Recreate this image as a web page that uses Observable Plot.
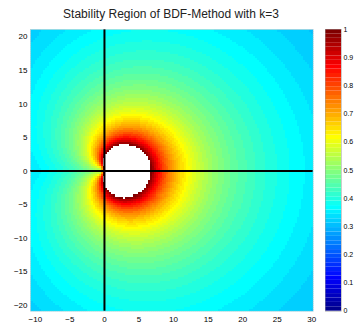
<!DOCTYPE html>
<html><head><meta charset="utf-8">
<script src="https://cdn.jsdelivr.net/npm/d3@7"></script>
<script src="https://cdn.jsdelivr.net/npm/@observablehq/plot@0.6"></script>
<style>
body{margin:0;background:#fff;}
#wrap{position:relative;width:358px;height:325px;overflow:hidden;font-family:"Liberation Sans",Arial,Helvetica,sans-serif;}
#title{position:absolute;left:0;top:7px;width:342px;text-align:center;font-size:12px;line-height:14px;color:#222;}
#main{position:absolute;left:0;top:0;}
#cbar{position:absolute;left:320px;top:0;}
</style></head><body>
<div id="wrap"><div id="title">Stability Region of BDF-Method with k=3</div><div id="main"></div><div id="cbar"></div></div>
<script>
// BDF3: (11/6) ζ^3 - 3 ζ^2 + (3/2) ζ - 1/3 = z ζ^3  -> colour = max |ζ|
const bdfCoefficients = [11/6, -3, 3/2, -1/3];
const xDomain = [-10.7, 30.2];
const yDomain = [-20.9, 21.1];
const xTicks = [-10, -5, 0, 5, 10, 15, 20, 25, 30];
const yTicks = [-20, -15, -10, -5, 0, 5, 10, 15, 20];
const colorTicks = [0, 0.1, 0.2, 0.3, 0.4, 0.5, 0.6, 0.7, 0.8, 0.9, 1];
const colorTickLabels = ["0", "0.1", "0.2", "0.3", "0.4", "0.5", "0.6", "0.7", "0.8", "0.9", "1"];
const gridCols = 140, gridRows = 140;
const nColors = 64;

// MATLAB jet(64)
function jetColors(m) {
  const n = Math.ceil(m / 4);
  const u = [];
  for (let i = 1; i <= n; i++) u.push(i / n);
  for (let i = 1; i < n; i++) u.push(1);
  for (let i = n; i >= 1; i--) u.push(i / n);
  const g0 = Math.ceil(n / 2) - (m % 4 === 1 ? 1 : 0);
  const R = new Array(m).fill(0), G = new Array(m).fill(0), B = new Array(m).fill(0);
  for (let k = 1; k <= u.length; k++) {
    const g = g0 + k, r = g + n, b = g - n;
    if (g >= 1 && g <= m) G[g - 1] = u[k - 1];
    if (r >= 1 && r <= m) R[r - 1] = u[k - 1];
    if (b >= 1 && b <= m) B[b - 1] = u[k - 1];
  }
  return R.map((_, i) => d3.rgb(R[i] * 255, G[i] * 255, B[i] * 255).formatHex());
}
const jet = jetColors(nColors);
const thresholds = d3.range(1, nColors).map(i => i / nColors);

// complex helpers
const cmul = (a, b) => [a[0] * b[0] - a[1] * b[1], a[0] * b[1] + a[1] * b[0]];
const cdiv = (a, b) => { const d = b[0] * b[0] + b[1] * b[1]; return [(a[0] * b[0] + a[1] * b[1]) / d, (a[1] * b[0] - a[0] * b[1]) / d]; };
const csub = (a, b) => [a[0] - b[0], a[1] - b[1]];
const cadd = (a, b) => [a[0] + b[0], a[1] + b[1]];

function maxRootModulus(x, y) {
  const a3 = [bdfCoefficients[0] - x, -y];
  if (Math.hypot(a3[0], a3[1]) < 1e-9) return NaN;
  const b2 = cdiv([bdfCoefficients[1], 0], a3);
  const b1 = cdiv([bdfCoefficients[2], 0], a3);
  const b0 = cdiv([bdfCoefficients[3], 0], a3);
  const p = r => cadd(cmul(cadd(cmul(cadd(r, b2), r), b1), r), b0);
  let roots = [[1, 0], [0.4, 0.9], cmul([0.4, 0.9], [0.4, 0.9])];
  for (let it = 0; it < 80; it++) {
    const next = roots.map((r, i) => {
      let den = [1, 0];
      roots.forEach((s, j) => { if (j !== i) den = cmul(den, csub(r, s)); });
      return csub(r, cdiv(p(r), den));
    });
    roots = next;
  }
  const m = Math.max(...roots.map(r => Math.hypot(r[0], r[1])));
  return m > 1 ? NaN : m;
}

const font = '"Liberation Sans",Arial,Helvetica,sans-serif';

const main = Plot.plot({
  width: 320, height: 325,
  marginLeft: 30, marginRight: 7.3, marginTop: 29, marginBottom: 14.3,
  style: {fontFamily: font, fontSize: "8px", color: "#000", background: "transparent", overflow: "visible"},
  x: {domain: xDomain, ticks: xTicks, tickSize: 0, tickPadding: 5, label: null},
  y: {domain: yDomain, ticks: yTicks, tickSize: 0, tickPadding: 3, label: null},
  color: {type: "threshold", domain: thresholds, range: jet, unknown: "#ffffff"},
  marks: [
    Plot.raster({x1: xDomain[0], x2: xDomain[1], y1: yDomain[0], y2: yDomain[1],
      width: gridCols, height: gridRows, fill: (x, y) => maxRootModulus(x, y), imageRendering: "pixelated"}),
    Plot.ruleX([0], {stroke: "#000", strokeWidth: 2}),
    Plot.ruleY([0], {stroke: "#000", strokeWidth: 2}),
    Plot.frame({stroke: "#bbb", strokeDasharray: "1,1", strokeWidth: 0.8})
  ]
});
document.getElementById("main").append(main);

const levels = d3.range(nColors);
const cbar = Plot.plot({
  width: 38, height: 325,
  marginLeft: 5, marginRight: 17, marginTop: 29, marginBottom: 14.3,
  style: {fontFamily: font, fontSize: "7px", color: "#000", background: "transparent", overflow: "visible"},
  x: {domain: [0, 1], axis: null},
  y: {domain: [0, 1], axis: "right", ticks: colorTicks, tickFormat: (d, i) => colorTickLabels[i], tickSize: 0, tickPadding: 2, label: null},
  marks: [
    Plot.rect(levels, {x1: 0, x2: 1, y1: i => i / nColors, y2: i => (i + 1) / nColors, fill: i => jet[i]}),
    Plot.frame({stroke: "#999", strokeWidth: 0.5})
  ]
});
document.getElementById("cbar").append(cbar);
</script>
</body></html>
